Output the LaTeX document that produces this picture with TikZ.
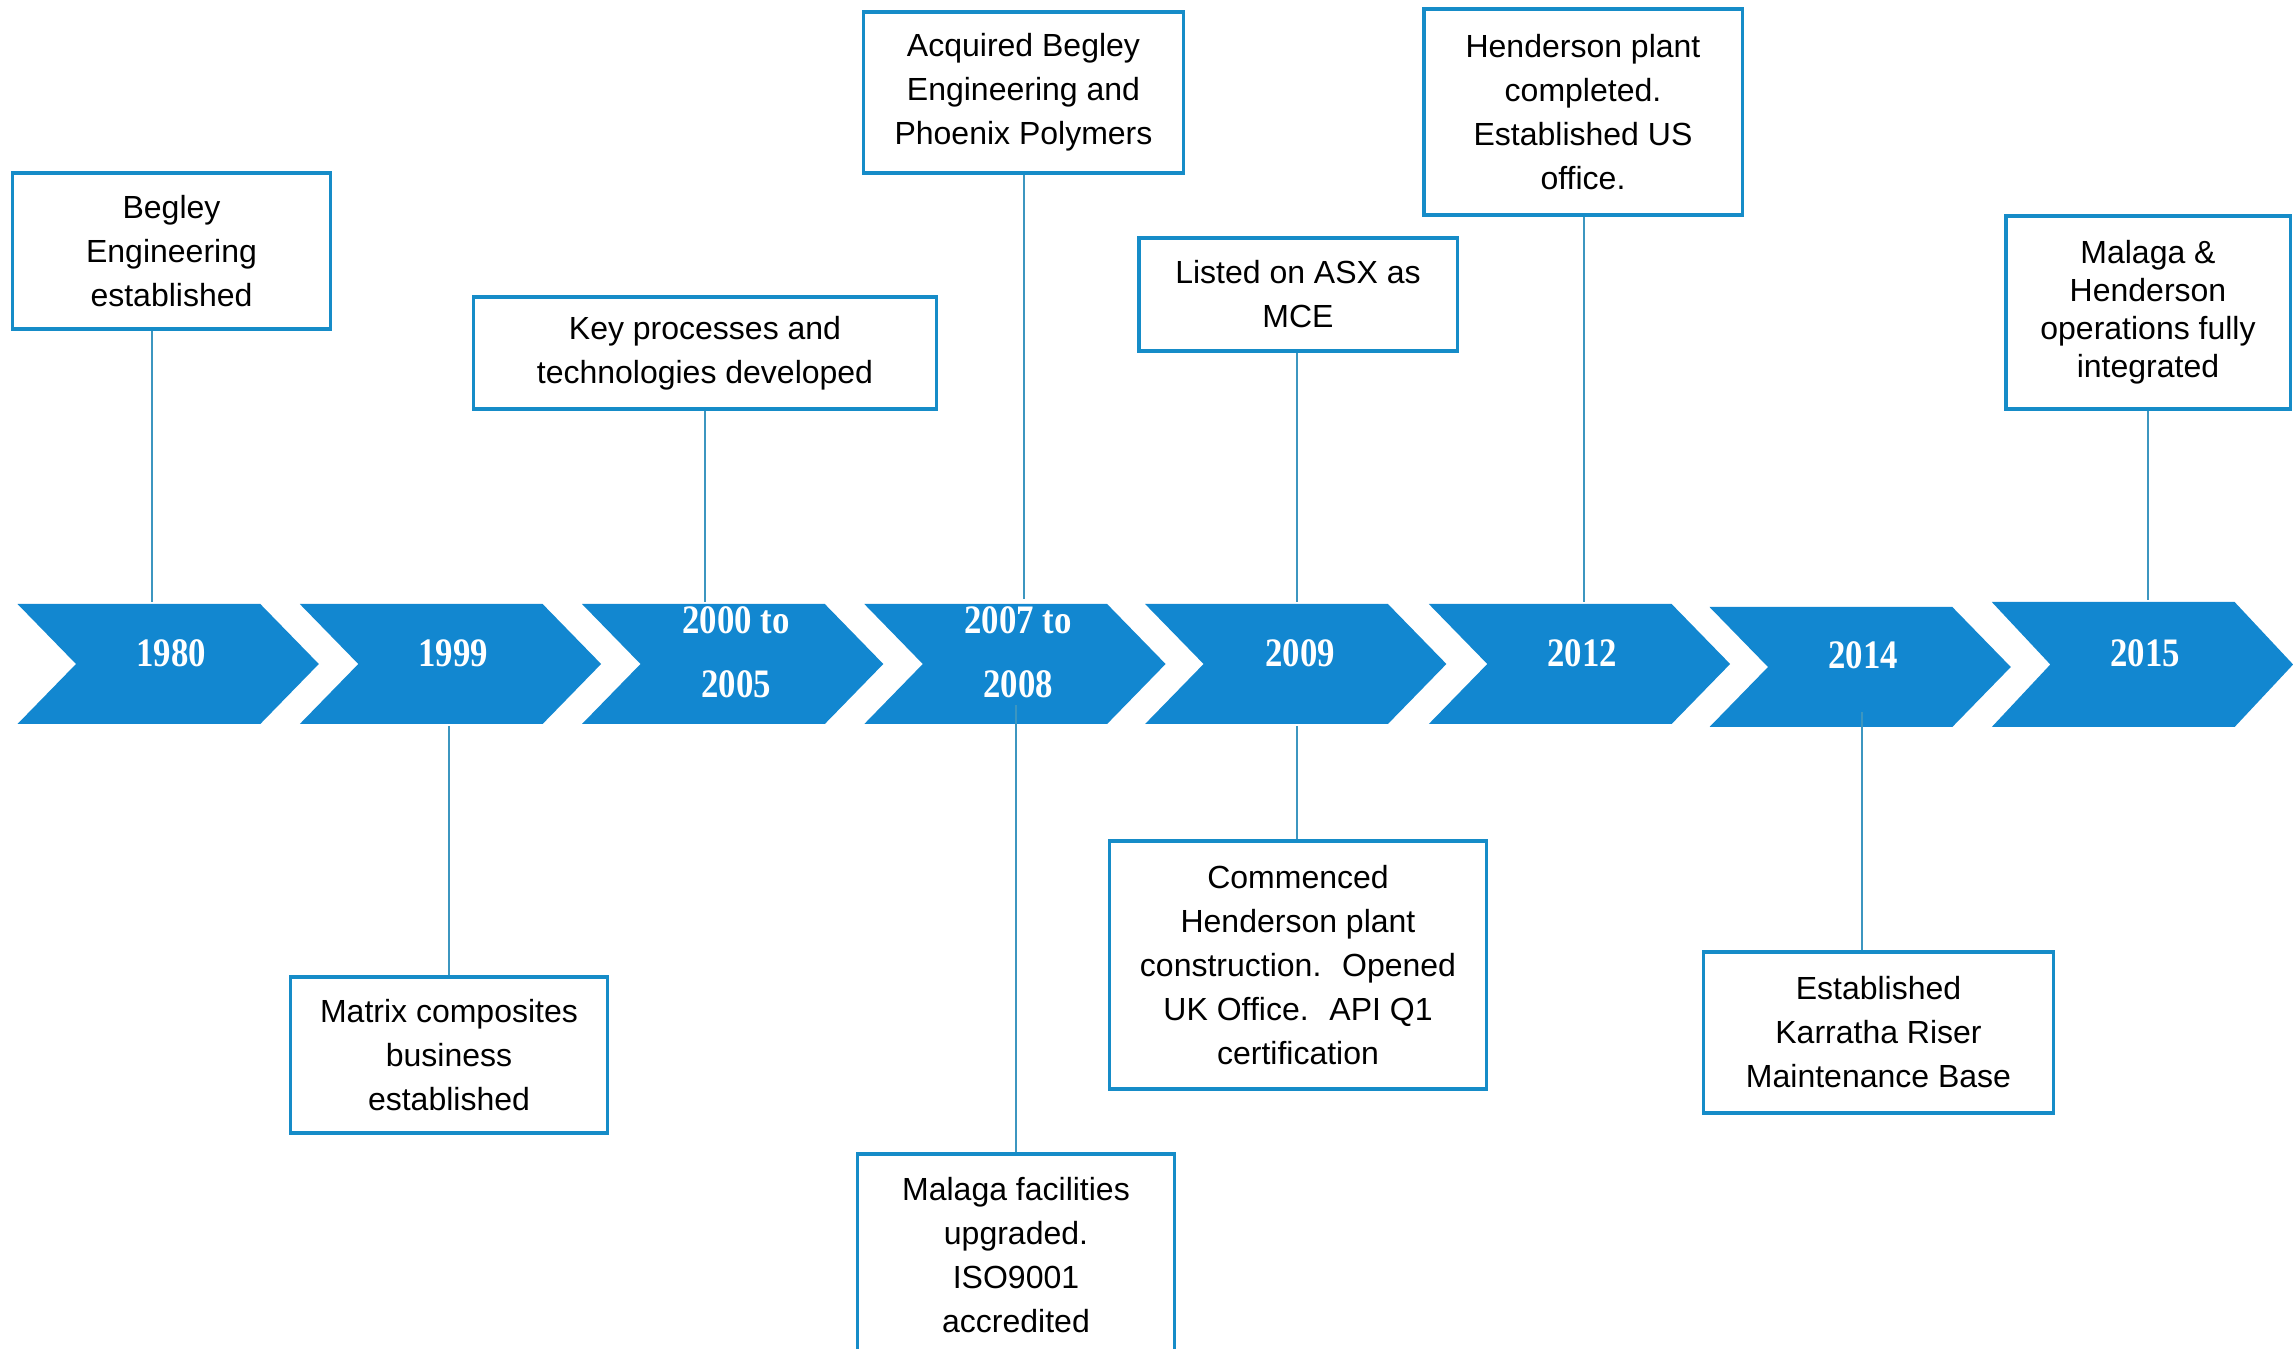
\documentclass[tikz,border=0pt]{standalone}
\usepackage{fontspec}
\setmainfont{Liberation Sans}
\newfontfamily\yrfont{Liberation Serif}
\definecolor{chev}{RGB}{18,135,208}
\definecolor{boxc}{RGB}{22,140,200}
\definecolor{connc}{RGB}{60,150,192}
\newcommand\yrtxt[1]{\scalebox{0.86}[1]{#1}}
\begin{document}
\begin{tikzpicture}[x=0.01cm,y=-0.01cm,
  evbox/.style={draw=boxc,line width=0.9pt,fill=white,inner sep=0pt,align=center,
    font=\fontsize{9.1}{12.5}\selectfont,text=black},
  conn/.style={draw=connc,line width=0.6pt},
  yr/.style={text=white,align=center,font=\yrfont\bfseries\fontsize{11.5}{18.2}\selectfont,inner sep=0pt}]
\useasboundingbox (0,0) rectangle (2293,1349);
\fill[white] (0,0) rectangle (2293,1349);

% chevrons
\foreach \L/\T/\B in {17.5/604/724, 299.8/604/724, 582.0/604/724, 864.3/604/724,
                      1145.1/604/724, 1428.8/604/724, 1709.5/607/727, 1991.8/602/727}{
  \fill[chev] (\L,\T) -- (\L+242.8,\T) -- (\L+301.3,{(\T+\B)/2}) -- (\L+242.8,\B)
     -- (\L,\B) -- (\L+58.5,{(\T+\B)/2}) -- cycle;
}

% year labels
\node[yr] (y1980) at (171,653) {\yrtxt{1980}};
\node[yr] (y1999) at (453,653) {\yrtxt{1999}};
\node[yr] (y2000) at (736,652) {\yrtxt{2000 to}\\\yrtxt{2005}};
\node[yr] (y2007) at (1018,652) {\yrtxt{2007 to}\\\yrtxt{2008}};
\node[yr] (y2009) at (1300,653) {\yrtxt{2009}};
\node[yr] (y2012) at (1582,653) {\yrtxt{2012}};
\node[yr] (y2014) at (1863,655) {\yrtxt{2014}};
\node[yr] (y2015) at (2145,653) {\yrtxt{2015}};

% event boxes
\node[evbox,minimum width=3.17cm,minimum height=1.56cm] (b1) at (171.5,251)
  {Begley\\Engineering\\established};
\node[evbox,minimum width=4.62cm,minimum height=1.12cm] (b2) at (705,353)
  {Key processes and\\technologies developed};
\node[evbox,minimum width=3.19cm,minimum height=1.61cm] (b3) at (1023.5,92.5)
  {Acquired Begley\\Engineering and\\Phoenix Polymers};
\node[evbox,minimum width=3.18cm,minimum height=1.13cm] (b4) at (1298,294.5)
  {Listed on ASX as\\MCE};
\node[evbox,minimum width=3.18cm,minimum height=2.06cm] (b5) at (1583,112)
  {Henderson plant\\completed.\\Established US\\office.};
\node[evbox,minimum width=2.84cm,minimum height=1.93cm,font=\fontsize{9.1}{10.8}\selectfont] (b6) at (2148,312.5)
  {Malaga \&\\Henderson\\operations fully\\integrated};
\node[evbox,minimum width=3.16cm,minimum height=1.56cm] (b7) at (449,1055)
  {Matrix composites\\business\\established};
\node[evbox,minimum width=3.16cm,minimum height=2.02cm] (b8) at (1016,1255)
  {Malaga facilities\\upgraded.\\ISO9001\\accredited};
\node[evbox,minimum width=3.76cm,minimum height=2.48cm] (b9) at (1298,965)
  {Commenced\\Henderson plant\\construction.~ Opened\\UK Office.~ API Q1\\certification};
\node[evbox,minimum width=3.49cm,minimum height=1.61cm] (b10) at (1878.5,1032.5)
  {Established\\Karratha Riser\\Maintenance Base};

% connector ends on the chevrons
\coordinate (t1980) at (152,602);
\coordinate (t2000) at (705,602);
\coordinate (t2007) at (1024,599);
\coordinate (t2009) at (1297,602);
\coordinate (t2012) at (1584,602);
\coordinate (t2015) at (2148,600);
\coordinate (u1999) at (449,726);
\coordinate (u2007) at (1016,705);
\coordinate (u2009) at (1297,726);
\coordinate (u2014) at (1862,712);

\draw[conn] (b1.south -| t1980) -- (t1980);
\draw[conn] (b2.south -| t2000) -- (t2000);
\draw[conn] (b3.south -| t2007) -- (t2007);
\draw[conn] (b4.south -| t2009) -- (t2009);
\draw[conn] (b5.south -| t2012) -- (t2012);
\draw[conn] (b6.south -| t2015) -- (t2015);
\draw[conn] (u1999) -- (b7.north -| u1999);
\draw[conn] (u2007) -- (b8.north -| u2007);
\draw[conn] (u2009) -- (b9.north -| u2009);
\draw[conn] (u2014) -- (b10.north -| u2014);
\end{tikzpicture}
\end{document}
